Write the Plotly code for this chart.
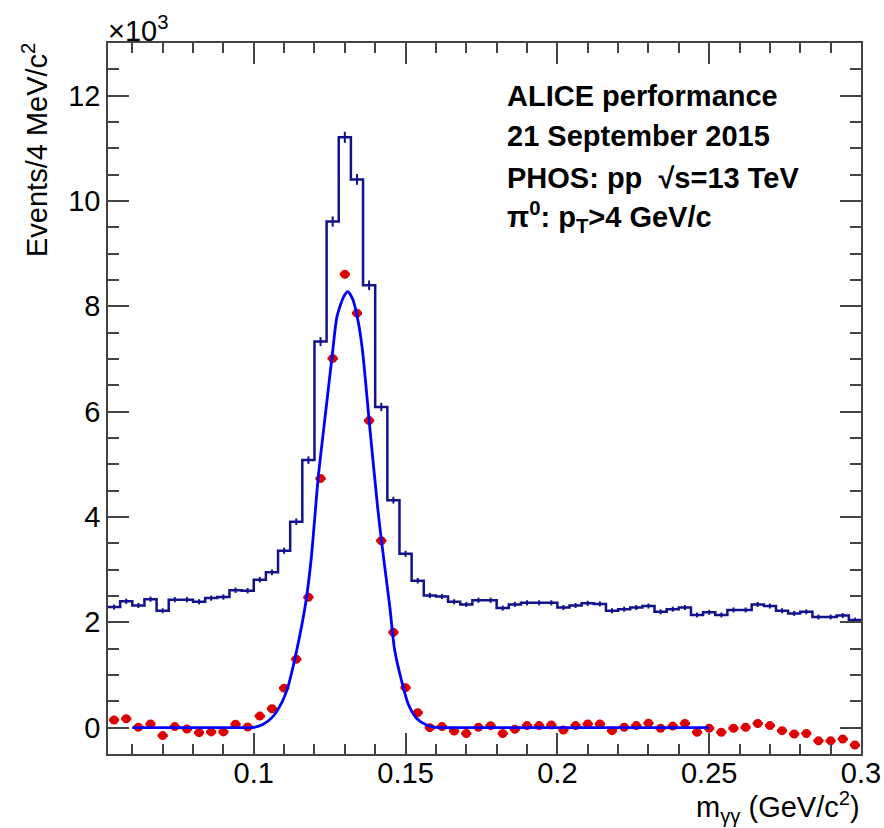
import numpy as np
import plotly.graph_objects as go

# ---- data (counts per 4 MeV/c^2 bin) ----
bin_low = 0.052          # GeV/c^2, low edge of first bin
bin_width = 0.004        # GeV/c^2
n_bins = 62

# raw invariant-mass distribution (blue histogram)
hist_counts = [
    2290, 2400, 2320, 2440, 2220, 2430, 2430, 2390, 2460, 2480,
    2610, 2600, 2810, 2950, 3360, 3910, 5080, 7330, 9610, 11210,
    10410, 8400, 6090, 4320, 3300, 2790, 2510, 2490, 2390, 2340,
    2420, 2420, 2270, 2340, 2370, 2370, 2370, 2280, 2320, 2360,
    2350, 2220, 2250, 2280, 2310, 2200, 2250, 2280, 2140, 2190,
    2140, 2235, 2235, 2340, 2310, 2220, 2170, 2200, 2100, 2100,
    2130, 2045,
]

# background-subtracted signal (red points)
signal_counts = [
    146, 170, 7, 70, -150, 20, -25, -95, -80, -80,
    64, 13, 220, 360, 750, 1300, 2476, 4730, 7010, 8610,
    7870, 5830, 3550, 1810, 760, 285, 0, 20, -63, -110,
    7, 38, -110, -30, 40, 40, 50, -44, 40, 70,
    70, -57, 7, 40, 83, -12, 30, 80, -88, -12,
    -88, -12, 7, 80, 40, -57, -120, -110, -250, -250,
    -215, -330,
]
signal_err = 70

# fit curve
fit_x = [0.060, 0.080, 0.095, 0.100, 0.103, 0.1063, 0.1091, 0.1113, 0.1132,
         0.1151, 0.1172, 0.1190, 0.1212, 0.1238, 0.1261, 0.1274, 0.1296,
         0.1310, 0.1327, 0.1343, 0.1358, 0.1382, 0.1409, 0.1426, 0.1448,
         0.1464, 0.1486, 0.1508, 0.1536, 0.1569, 0.1600, 0.170, 0.200, 0.250]
fit_y = [0, 0, 0, 5, 60, 210, 460, 780, 1220,
         1730, 2400, 3250, 4730, 6050, 7200, 7800, 8180,
         8280, 8120, 7740, 7170, 5710, 4130, 3300, 2300,
         1480, 910, 460, 180, 50, 5, 0, 0, 0]

y_tick_vals = [0, 2000, 4000, 6000, 8000, 10000, 12000]
y_tick_text = ["0", "2", "4", "6", "8", "10", "12"]

# ---- derived bin geometry ----
edges = bin_low + bin_width * np.arange(n_bins + 1)
centers = edges[:-1] + bin_width / 2

W, H = 884, 828
ml, mr, mt, mb = 108, 23, 43, 74
pw, ph = W - ml - mr, H - mt - mb


def px(x):
    return (x - ml) / pw


def py(y):
    return (H - mb - y) / ph


FONT = "Liberation Sans, Arial, Helvetica, sans-serif"
NAVY = "#12128c"
RED = "#dd0000"
FIT = "#0000ff"
AX = "#444444"

fig = go.Figure()

# histogram outline
fig.add_trace(go.Scatter(
    x=list(edges), y=hist_counts + [hist_counts[-1]],
    mode="lines", line=dict(color=NAVY, width=2.5, shape="hv"),
    hoverinfo="skip", showlegend=False))
# histogram error ticks
fig.add_trace(go.Scatter(
    x=centers, y=hist_counts, mode="markers",
    marker=dict(size=1, color=NAVY),
    error_y=dict(type="sqrt", color=NAVY, thickness=2, width=0),
    showlegend=False))

# signal points
fig.add_trace(go.Scatter(
    x=centers, y=signal_counts, mode="markers",
    marker=dict(symbol="circle", size=9, color=RED),
    error_x=dict(type="constant", value=bin_width * 0.42, color=RED, thickness=3, width=0),
    error_y=dict(type="constant", value=signal_err, color=RED, thickness=3, width=0),
    showlegend=False))

# fit
fig.add_trace(go.Scatter(
    x=fit_x, y=fit_y, mode="lines",
    line=dict(color=FIT, width=2.8, shape="spline", smoothing=0.7),
    showlegend=False))

axis_common = dict(
    showline=True, linecolor=AX, linewidth=1.6, mirror="ticks",
    ticks="inside", tickcolor=AX, tickwidth=1.6, ticklen=21,
    showgrid=False, zeroline=False, automargin=False,
    tickfont=dict(family=FONT, size=29, color="black"),
)

fig.update_xaxes(
    range=[bin_low, bin_low + n_bins * bin_width],
    tick0=0, dtick=0.05,
    minor=dict(ticks="inside", dtick=0.01, tick0=0, ticklen=10,
               tickcolor=AX, tickwidth=1.6, showgrid=False),
    ticklabelstandoff=-8,
    **axis_common)
fig.update_yaxes(
    range=[-500, 13000],
    tickmode="array", tickvals=y_tick_vals, ticktext=y_tick_text,
    minor=dict(ticks="inside", tickmode="linear", dtick=500, tick0=0, ticklen=11,
               tickcolor=AX, tickwidth=1.6, showgrid=False),
    ticklabelstandoff=0,
    **axis_common)

ann = []
text_lines = [
    ("<b>ALICE performance</b>", 96),
    ("<b>21 September 2015</b>", 136),
    ("<b>PHOS: pp  √s=13 TeV</b>", 178),
    ("<b>π<sup>0</sup>: p<sub>T</sub>>4 GeV/c</b>", 217),
]
for t, yy in text_lines:
    ann.append(dict(text=t, x=px(505), y=py(yy), xref="paper", yref="paper",
                    xanchor="left", yanchor="middle", showarrow=False,
                    font=dict(family=FONT, size=29, color="black")))
ann.append(dict(text="×10<sup>3</sup>", x=px(106), y=py(29), xref="paper", yref="paper",
                xanchor="left", yanchor="middle", showarrow=False,
                font=dict(family=FONT, size=29, color="black")))
ann.append(dict(text="Events/4 MeV/c<sup>2</sup>", x=px(35), y=py(41), xref="paper", yref="paper",
                xanchor="center", yanchor="top", textangle=-90, showarrow=False,
                font=dict(family=FONT, size=29, color="black")))
ann.append(dict(text="m<sub>γγ</sub> (GeV/c<sup>2</sup>)", x=px(862), y=py(807), xref="paper", yref="paper",
                xanchor="right", yanchor="middle", showarrow=False,
                font=dict(family=FONT, size=29, color="black")))

fig.update_layout(
    width=W, height=H,
    margin=dict(l=ml, r=mr, t=mt, b=mb, autoexpand=False),
    paper_bgcolor="white", plot_bgcolor="white",
    annotations=ann,
    showlegend=False,
)

fig.write_html("out.html", config={"displayModeBar": False},
               post_script="document.body.style.margin='0';document.body.style.padding='0';")
